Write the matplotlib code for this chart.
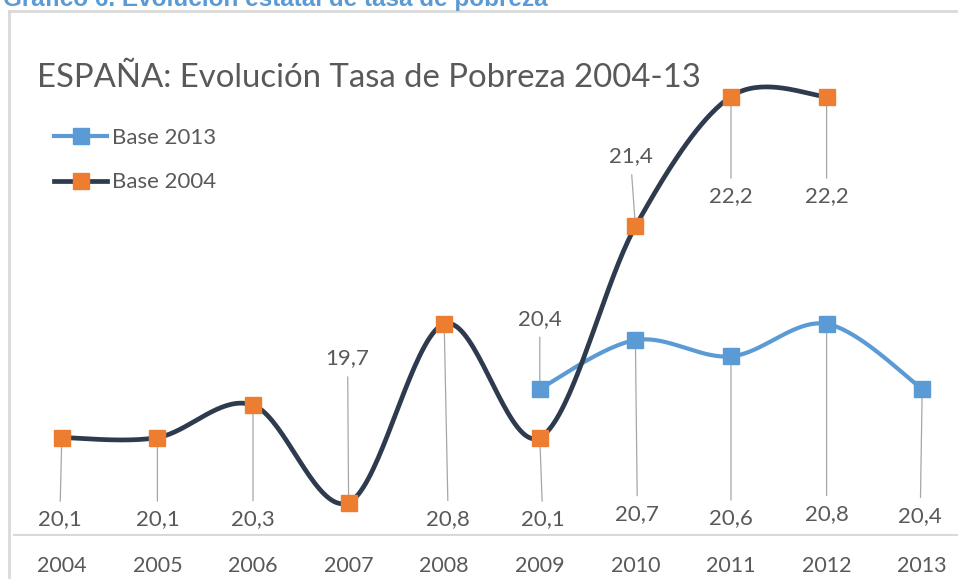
import numpy as np
import matplotlib
matplotlib.use("Agg")
import matplotlib.pyplot as plt
from matplotlib.lines import Line2D

# ---- data ----
years = [2004, 2005, 2006, 2007, 2008, 2009, 2010, 2011, 2012, 2013]
year_labels = ["2004", "2005", "2006", "2007", "2008", "2009", "2010", "2011", "2012", "2013"]
base2004_years = [2004, 2005, 2006, 2007, 2008, 2009, 2010, 2011, 2012]
base2004 = [20.1, 20.1, 20.3, 19.7, 20.8, 20.1, 21.4, 22.2, 22.2]
base2013_years = [2009, 2010, 2011, 2012, 2013]
base2013 = [20.4, 20.7, 20.6, 20.8, 20.4]

# ---- style / layout ----
W, H = 958, 579
FONT = ["Lato", "DejaVu Sans"]
TXT = "#595959"
C2013 = "#5B9BD5"
C2004_LINE = "#2E3A4D"
C2004_MK = "#ED7D31"
GRID = "#D9D9D9"
LEADER = "#A6A6A6"

# label offsets in pixels (dx, dy; dy positive = up)
off2004 = [(-2, -82), (0, -82), (0, -114), (-1, 144), (4, -195), (3, -82), (-5, 70), (0, -100), (0, -100)]
off2013 = [(0, 70), (2, -174), (0, -162), (0, -190), (-2, -127)]


def smooth(x, y, n=40):
    pts = np.column_stack([np.asarray(x, float), np.asarray(y, float)])
    m = len(pts)
    out = []
    t = np.linspace(0, 1, n)[:, None]
    for i in range(m - 1):
        p0 = pts[max(i - 1, 0)]
        p1 = pts[i]
        p2 = pts[i + 1]
        p3 = pts[min(i + 2, m - 1)]
        c1 = p1 + (p2 - p0) / 6.0
        c2 = p2 - (p3 - p1) / 6.0
        seg = (1 - t) ** 3 * p1 + 3 * (1 - t) ** 2 * t * c1 + 3 * (1 - t) * t ** 2 * c2 + t ** 3 * p2
        out.append(seg if i == 0 else seg[1:])
    return np.vstack(out)


fig = plt.figure(figsize=(W / 100, H / 100), dpi=100)
fig.patch.set_facecolor("white")

ax = fig.add_axes([14 / W, 44 / H, 956 / W, 487.2 / H])
ax.set_xlim(2003.5, 2013.5)
ax.set_ylim(19.5, 22.5)
ax.patch.set_alpha(0)
for s in ["top", "left", "right"]:
    ax.spines[s].set_visible(False)
ax.spines["bottom"].set_color(GRID)
ax.spines["bottom"].set_linewidth(1.5)
ax.set_yticks([])
ax.set_xticks(years)
ax.set_xticklabels(year_labels, fontfamily=FONT, fontsize=15.5, color=TXT)
ax.tick_params(axis="x", length=0, pad=15)

# smooth lines
s13 = smooth(base2013_years, base2013)
s04 = smooth(base2004_years, base2004)
ax.plot(s13[:, 0], s13[:, 1], color=C2013, lw=3.0, solid_capstyle="round", zorder=3)
ax.plot(s04[:, 0], s04[:, 1], color=C2004_LINE, lw=3.4, solid_capstyle="round", zorder=3)
ax.plot(base2013_years, base2013, ls="none", marker="s", ms=11, color=C2013,
        markeredgecolor=C2013, zorder=5)
ax.plot(base2004_years, base2004, ls="none", marker="s", ms=11, color=C2004_MK,
        markeredgecolor=C2004_MK, zorder=5)


def fmt(v):
    return f"{v:.1f}".replace(".", ",")


def labels(xs, vs, offs):
    for x, v, (dx, dy) in zip(xs, vs, offs):
        ax.annotate(fmt(v), xy=(x, v), xytext=(dx, dy), textcoords="offset pixels",
                    ha="center", va="center", fontsize=16, color=TXT, fontfamily=FONT,
                    arrowprops=dict(arrowstyle="-", color=LEADER, lw=0.9,
                                    shrinkA=4, shrinkB=0),
                    zorder=2, annotation_clip=False)


labels(base2004_years, base2004, off2004)
labels(base2013_years, base2013, off2013)

# legend
handles = [
    Line2D([], [], color=C2013, lw=3.0, marker="s", ms=11, markerfacecolor=C2013, markeredgecolor=C2013),
    Line2D([], [], color=C2004_LINE, lw=3.4, marker="s", ms=11, markerfacecolor=C2004_MK, markeredgecolor=C2004_MK),
]
leg = fig.legend(handles, ["Base 2013", "Base 2004"], loc="upper left",
                 bbox_to_anchor=(54 / W, 1 - 128 / H), frameon=False,
                 prop={"family": FONT, "size": 16}, handlelength=2.4, handletextpad=0.2,
                 labelspacing=1.1, borderaxespad=0, borderpad=0)
for t in leg.get_texts():
    t.set_color(TXT)

# chart title
fig.text(37 / W, 1 - 78 / H, "ESPAÑA: Evolución Tasa de Pobreza 2004-13", fontfamily=FONT,
         fontsize=23.7, color=TXT, ha="left", va="center")

# frame around chart
fig.add_artist(Line2D([9 / W, 9 / W], [0, 1 - 11 / H], color=GRID, lw=2, transform=fig.transFigure))
fig.add_artist(Line2D([9 / W, 1], [1 - 11 / H, 1 - 11 / H], color=GRID, lw=2, transform=fig.transFigure))

# document caption (cut off at top)
fig.text(3 / W, 1 - 6 / H, "Gráfico 6. Evolución estatal de tasa de pobreza",
         fontfamily=["Liberation Sans", "DejaVu Sans"], fontweight="bold", fontsize=17.5,
         color="#5B9BD5", ha="left", va="baseline")

fig.savefig("out.png", dpi=100, facecolor="white")
